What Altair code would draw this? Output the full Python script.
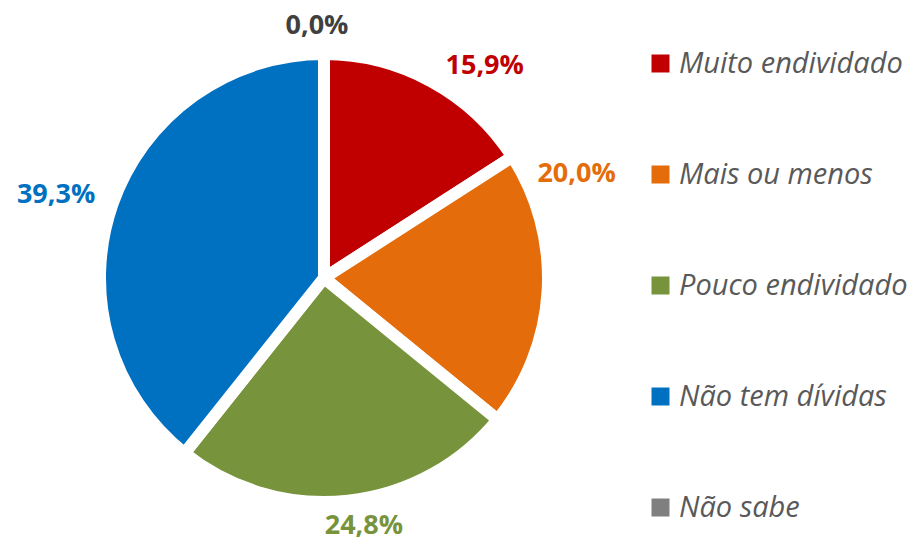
import altair as alt
import pandas as pd

categories = ["Muito endividado", "Mais ou menos", "Pouco endividado", "Não tem dívidas", "Não sabe"]
values = [15.9, 20.0, 24.8, 39.3, 0.0]
labels = ["15,9%", "20,0%", "24,8%", "39,3%", "0,0%"]
colors = ["#C00000", "#E46C0A", "#77933C", "#0070C0", "#7F7F7F"]
label_colors = ["#C00000", "#E46C0A", "#77933C", "#0070C0", "#404040"]

df = pd.DataFrame({"cat": categories, "value": values, "label": labels, "order": list(range(len(categories)))})

CX, CY = 324, 278
LABEL_R = 252
# per-label nudges (dx, dy) to match the reference label placement
nudges = [(40, 9), (1, -118), (13, -3), (-30, 0), (-7, 0)]

theta_scale = alt.Scale(domain=[0, 100])

arcs = alt.Chart(df).mark_arc(outerRadius=224, stroke="white", strokeWidth=12).encode(
    theta=alt.Theta("value:Q", stack=True, scale=theta_scale),
    color=alt.Color(
        "cat:N",
        scale=alt.Scale(domain=categories, range=colors),
        sort=categories,
        legend=alt.Legend(
            title=None,
            orient="none",
            legendX=646,
            legendY=49,
            symbolType="square",
            symbolSize=324,
            symbolStrokeWidth=0,
            labelFont="Open Sans",
            labelFontStyle="italic",
            labelFontSize=29,
            labelColor="#595959",
            labelOffset=4,
            labelLimit=0,
            rowPadding=81,
            padding=0,
        ),
    ),
    order=alt.Order("order:Q"),
    x=alt.value(CX),
    y=alt.value(CY),
)

base = alt.Chart(df).transform_window(
    cum="sum(value)", sort=[alt.SortField("order")], frame=[None, 0]
).transform_calculate(mid="datum.cum - datum.value / 2")

layers = [arcs]
for i in range(len(categories)):
    dx, dy = nudges[i]
    layers.append(
        base.transform_filter(f"datum.order == {i}")
        .mark_text(
            font="Open Sans", fontWeight="bold", fontSize=27, color=label_colors[i],
            align="center", baseline="middle", dx=dx, dy=dy,
        )
        .encode(
            theta=alt.Theta("mid:Q", stack=False, scale=theta_scale),
            radius=alt.value(LABEL_R),
            text="label:N",
            x=alt.value(CX),
            y=alt.value(CY),
        )
    )

chart = alt.layer(*layers).properties(
    width=908, height=543, autosize="none", padding=0
).configure_view(stroke=None)

chart.save("out.html", embed_options={"renderer": "svg", "actions": False})
